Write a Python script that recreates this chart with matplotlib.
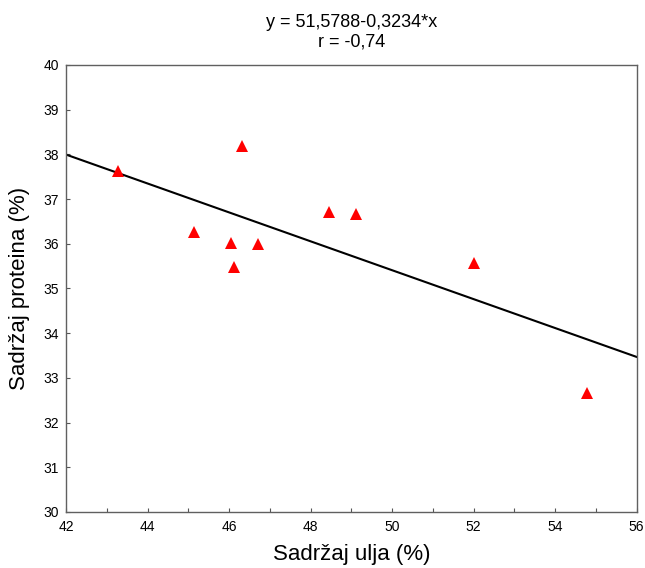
import numpy as np
import matplotlib
matplotlib.use("Agg")
import matplotlib.pyplot as plt
from matplotlib.ticker import MultipleLocator

plt.rcParams['font.family'] = ['Liberation Sans', 'DejaVu Sans']

oil = [43.28, 46.33, 45.14, 46.04, 46.71, 46.13, 48.45, 49.12, 52.0, 54.77]
protein = [37.62, 38.18, 36.26, 36.01, 35.99, 35.47, 36.71, 36.67, 35.57, 32.66]
intercept = 51.5788
slope = -0.3234
title_text = "y = 51,5788-0,3234*x\nr = -0,74"
xlabel = "Sadržaj ulja (%)"
ylabel = "Sadržaj proteina (%)"

fig = plt.figure(figsize=(6.45, 5.68), dpi=100)
ax = fig.add_axes([0.1023, 0.0986, 0.8848, 0.787])

xl = np.array([42, 56])
ax.plot(xl, intercept + slope * xl, color='black', lw=1.5, zorder=2)
ax.plot(oil, protein, linestyle='none', marker='^', color='#ff0000',
        markersize=9, markeredgewidth=0, zorder=3, clip_on=False)

ax.set_xlim(42, 56)
ax.set_ylim(30, 40)
ax.xaxis.set_major_locator(MultipleLocator(2))
ax.xaxis.set_minor_locator(MultipleLocator(1))
ax.yaxis.set_major_locator(MultipleLocator(1))
ax.tick_params(which='both', direction='in', length=3, width=0.8, color='#555555',
               labelsize=10, top=False, right=False)
ax.tick_params(axis='x', pad=6)
ax.tick_params(axis='y', pad=5)
for s in ax.spines.values():
    s.set_color('#606060')
    s.set_linewidth(1.0)

ax.set_xlabel(xlabel, fontsize=16, labelpad=7)
ax.set_ylabel(ylabel, fontsize=16, labelpad=10)
ax.set_title(title_text, fontsize=13, pad=13, linespacing=1.2)

fig.savefig("out.png", dpi=100)
